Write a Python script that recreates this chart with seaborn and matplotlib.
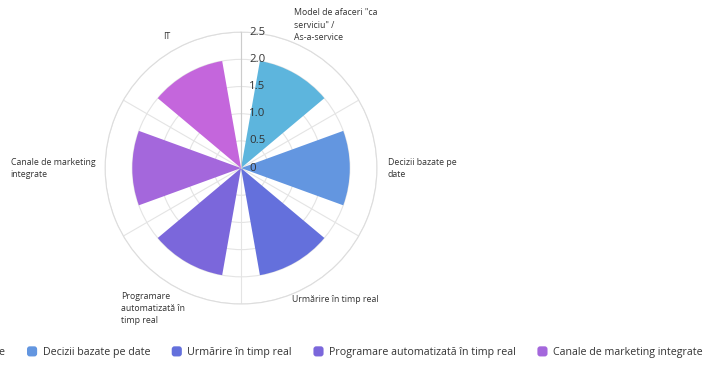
import numpy as np
import pandas as pd
import matplotlib
matplotlib.use("Agg")
import matplotlib.pyplot as plt
import matplotlib.transforms as mtransforms
from matplotlib.patches import FancyBboxPatch, Patch
from matplotlib.legend_handler import HandlerPatch
import seaborn as sns

# ---- data ----
categories = [
    'Model de afaceri "ca serviciu" / As-a-service',
    "Decizii bazate pe date",
    "Urmărire în timp real",
    "Programare automatizată în timp real",
    "Canale de marketing integrate",
    "IT",
]
axis_labels = [
    'Model de afaceri "ca\nserviciu" /\nAs-a-service',
    "Decizii bazate pe\ndate",
    "Urmărire în timp real",
    "Programare\nautomatizată în\ntimp real",
    "Canale de marketing\nintegrate",
    "IT",
]
values = [2.0, 2.0, 2.0, 2.0, 2.0, 2.0]
r_ticks = [0, 0.5, 1.0, 1.5, 2.0, 2.5]
r_tick_labels = ["0", "0.5", "1.0", "1.5", "2.0", "2.5"]
colors = ["#5db5dd", "#6396e0", "#6470dc", "#7b67db", "#a467dc", "#c466dc"]

sns.set_style("white")
plt.rcParams["font.family"] = ["Open Sans", "DejaVu Sans"]

n = len(categories)
sector = 2 * np.pi / n
theta = np.arange(n) * sector + sector / 2
df = pd.DataFrame({"theta": theta, "value": values, "category": categories})

fig = plt.figure(figsize=(7.1, 3.9), dpi=100)
ax = fig.add_axes([0.148, 0.2205, 0.383, 0.697], projection="polar")
ax.set_theta_zero_location("N")
ax.set_theta_direction(-1)

sns.barplot(
    data=df, x="theta", y="value", hue="category", palette=colors,
    hue_order=categories, native_scale=True, dodge=False, width=0.667,
    legend=False, ax=ax, linewidth=0, saturation=1,
)
for bar in ax.patches:
    bar.set_alpha(1)
    bar.set_zorder(3)

ax.set_ylim(0, 2.5)
ax.set_xlim(0, 2 * np.pi)
ax.set_xlabel("")
ax.set_ylabel("")
ax.set_xticks(np.arange(n) * sector)
ax.set_xticklabels([])
ax.set_yticks(r_ticks)
ax.set_yticklabels([])
ax.grid(True, color="#e4e4e4", linewidth=0.8)
ax.spines["polar"].set_color("#dddddd")
ax.spines["polar"].set_linewidth(0.8)
ax.tick_params(axis="both", length=0, pad=0)

# radial axis line and its value labels
ax.plot([0, 0], [0, 2.5], color="#cccccc", linewidth=0.8, zorder=4)
off = mtransforms.ScaledTranslation(8 / 100, 0, fig.dpi_scale_trans)
for r, lab in zip(r_ticks, r_tick_labels):
    ax.text(0, r, lab, transform=ax.transData + off, ha="left", va="center",
            fontsize=8.2, color="#333333", zorder=5)

# category labels around the circle
label_pos = [
    dict(xytext=(-15, 42), ha="left", va="top"),
    dict(xytext=(11, 0), ha="left", va="center"),
    dict(xytext=(-17, -14), ha="left", va="center"),
    dict(xytext=(-52, -6), ha="left", va="top"),
    dict(xytext=(-10, 0), ha="right", va="center"),
    dict(xytext=(-3, 9), ha="right", va="bottom"),
]
for t, lab, p in zip(theta, axis_labels, label_pos):
    ax.annotate(lab, xy=(t, 2.5), xytext=p["xytext"], textcoords="offset pixels",
                ha=p["ha"], va=p["va"], multialignment="left", fontsize=6.3,
                color="#333333", linespacing=1.45, annotation_clip=False)


class RoundHandler(HandlerPatch):
    def create_artists(self, legend, orig_handle, xdescent, ydescent,
                       width, height, fontsize, trans):
        s = min(width, height)
        p = FancyBboxPatch((-xdescent + (width - s) / 2, -ydescent + (height - s) / 2),
                           s, s, boxstyle="round,pad=0,rounding_size=2",
                           facecolor=orig_handle.get_facecolor(), edgecolor="none",
                           transform=trans)
        return [p]


handles = [Patch(facecolor=c, label=l) for c, l in zip(colors, categories)]
leg = fig.legend(handles=handles, loc="center left", bbox_to_anchor=(0, 0.097),
                 ncol=n, frameon=False, fontsize=7.7, handlelength=1.08,
                 handleheight=1.08, handletextpad=0.45, columnspacing=1.95,
                 handler_map={Patch: RoundHandler()}, labelcolor="#333333")
fig.canvas.draw()
# shift the legend so the second entry starts near the left edge
bb = leg.legend_handles[1].get_window_extent(fig.canvas.get_renderer())
shift = (27 - bb.x0) / fig.bbox.width
leg.set_bbox_to_anchor((shift, 0.097), transform=fig.transFigure)

fig.savefig("out.png", dpi=100)
